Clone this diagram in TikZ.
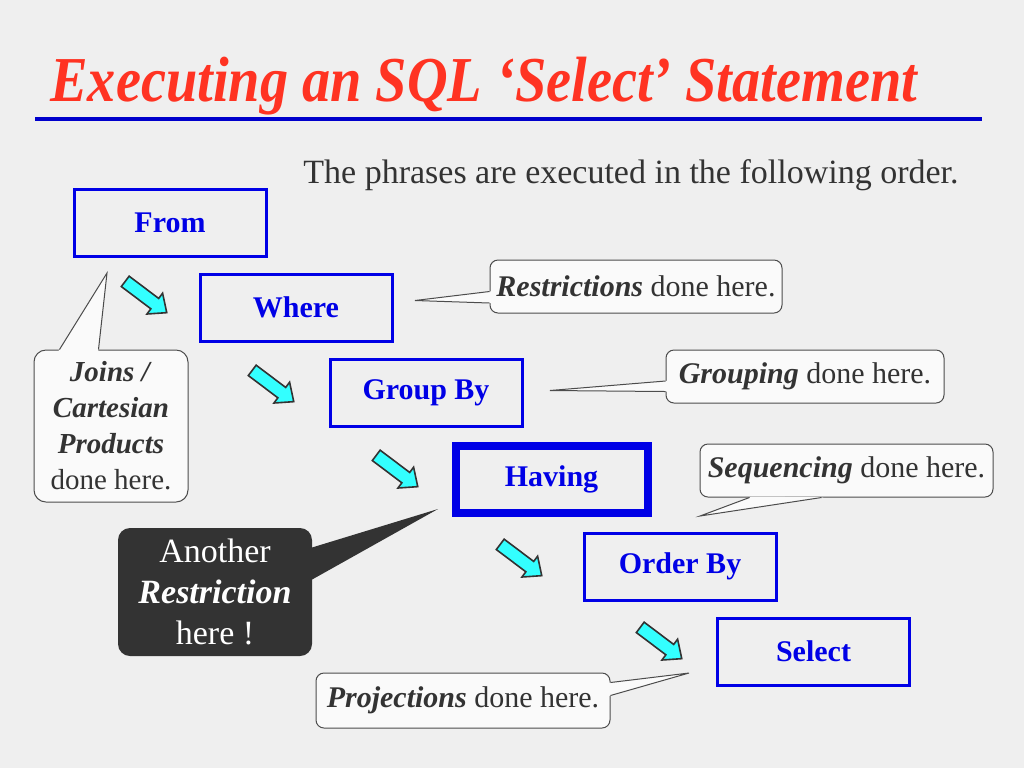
\documentclass[tikz,border=0pt]{standalone}
\usepackage{fontspec}
\setmainfont{Liberation Serif}
\usetikzlibrary{calc}
\definecolor{latar}{HTML}{EFEFEF}
\definecolor{judul}{HTML}{FF3322}
\definecolor{garis}{HTML}{0000CC}
\definecolor{biru}{HTML}{0000E6}
\definecolor{teks}{HTML}{333333}
\definecolor{isi}{HTML}{FAFAFA}
\definecolor{sian}{HTML}{33FFFF}
\newcommand{\panah}[1]{\foreach \p in {#1}
  \filldraw[fill=sian,draw=teks,line width=0.8pt,line join=miter,shift={(\p)},rotate=-37]
    (-26,-6.5) -- (11,-6.5) -- (11,-13) -- (26,0) -- (11,13) -- (11,6.5) -- (-26,6.5) -- cycle;}
\newcommand{\ekor}[3]{%
  \fill[isi] ($(#1)!-1pt!(#3)$) -- (#3) -- ($(#2)!-1pt!(#3)$) -- cycle;
  \draw[gray!60!black,line width=0.5pt] (#1) -- (#3) -- (#2);}
\tikzset{
  kotak/.style={draw=biru,line width=1.5pt,minimum width=96pt,minimum height=33.5pt,
    text=biru,font=\fontsize{15}{18}\selectfont\bfseries},
  catatan/.style={draw=gray!60!black,fill=isi,line width=0.5pt,rounded corners=4pt,
    text=teks,font=\fontsize{15}{18}\selectfont,inner sep=0pt},
}

\begin{document}
\begin{tikzpicture}[x=0.5pt,y=-0.5pt]
  \fill[latar] (0,0) rectangle (1024,768);
  \useasboundingbox (0,0) rectangle (1024,768);

  % judul
  \node[anchor=base west,inner sep=0pt,text=judul] (judul) at (50,101)
    {\scalebox{0.88}[1]{\fontsize{32}{36}\selectfont\bfseries\itshape Executing an SQL ‘Select’ Statement}};
  \draw[garis,line width=2pt] (35,119) -- (982,119);
  \node[anchor=base west,inner sep=0pt,text=teks,font=\fontsize{17}{20}\selectfont] (urut) at (303,183)
    {The phrases are executed in the following order.};

  % frasa
  \coordinate (F) at (170,222.5);
  \coordinate (W) at (296,307.5);
  \coordinate (G) at (426,393);
  \coordinate (H) at (551.5,479.5);
  \coordinate (O) at (680,566.5);
  \coordinate (S) at (813.5,651.5);

  \node[kotak] (from)   at (F) {From};
  \node[kotak] (where)  at (W) {Where};
  \node[kotak] (group)  at (G) {Group By};
  \node[kotak,line width=4pt] (having) at (H) {Having};
  \node[kotak] (order)  at (O) {Order By};
  \node[kotak] (select) at (S) {Select};

  % panah
  \coordinate (a1) at (146,297);
  \coordinate (a2) at (273,386);
  \coordinate (a3) at (397,471);
  \coordinate (a4) at (521,560);
  \coordinate (a5) at (661,643);
  \panah{a1,a2,a3,a4,a5}

  % catatan
  \node[catatan,minimum width=146pt,minimum height=26.5pt] (cRes) at (636,286.5)
    {\textbf{\textit{Restrictions}} done here.};
  \coordinate (tRes) at (415,300.5);
  \ekor{$(cRes.west)+(0,5)$}{$(cRes.west)+(0,16.5)$}{tRes}

  \node[catatan,minimum width=139pt,minimum height=26.5pt] (cGrp) at (805,376.5)
    {\textbf{\textit{Grouping}} done here.};
  \coordinate (tGrp) at (550,390.5);
  \ekor{$(cGrp.west)+(0,4.5)$}{$(cGrp.west)+(0,15)$}{tGrp}

  \node[catatan,minimum width=146.5pt,minimum height=26.5pt] (cSeq) at (846.5,470.5)
    {\textbf{\textit{Sequencing}} done here.};
  \coordinate (tSeq) at (700,516);
  \ekor{$(cSeq.south west)+(50,0)$}{$(cSeq.south west)+(122,0)$}{tSeq}

  \node[catatan,minimum width=147pt,minimum height=27.5pt] (cProj) at (463,700.5)
    {\textbf{\textit{Projections}} done here.};
  \coordinate (tProj) at (689,673);
  \ekor{$(cProj.north east)+(0,10)$}{$(cProj.north east)+(0,23)$}{tProj}

  \node[catatan,rounded corners=6pt,minimum width=77pt,minimum height=76pt,align=center,
    font=\fontsize{14.5}{18}\selectfont] (cJoin) at (111,426)
    {\textbf{\textit{Joins /}}\\\textbf{\textit{Cartesian}}\\\textbf{\textit{Products}}\\done here.};
  \coordinate (tJoin) at (107,273);
  \ekor{$(cJoin.north west)+(26,0)$}{$(cJoin.north west)+(65,0)$}{tJoin}

  \node[fill=teks,rounded corners=6pt,minimum width=97pt,minimum height=64pt,align=center,
    text=white,inner sep=0pt,font=\fontsize{17}{20.5}\selectfont] (cLagi) at (215,592)
    {Another\\\textbf{\textit{Restriction}}\\here !};
  \coordinate (tLagi) at (438,509);
  \fill[teks] ($(cLagi.north east)+(-4,21)$) -- (tLagi) -- ($(cLagi.north east)+(-4,54)$) -- cycle;
\end{tikzpicture}
\end{document}
